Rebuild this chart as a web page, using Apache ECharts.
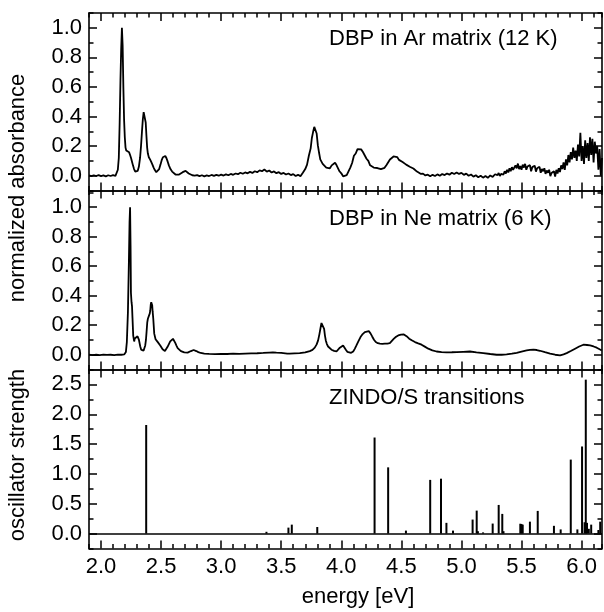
<!DOCTYPE html>
<html>
<head>
<meta charset="utf-8">
<script src="https://cdn.jsdelivr.net/npm/echarts@6/dist/echarts.min.js"></script>
<style>html,body{margin:0;padding:0;background:#fff;}#c{width:604px;height:612px;}</style>
</head>
<body>
<div id="c"></div>
<script>
// ---------- data ----------
const arSpectrum = [
[1.90,0.002],[1.92,-0.003],[1.94,0.003],[1.96,-0.002],[1.98,0.004],[2.00,-0.003],[2.02,0.002],[2.04,-0.004],[2.06,0.003],[2.08,-0.002],[2.10,0.004],[2.12,-0.001],[2.135,0.01],
[2.14,0.04],[2.148,0.12],[2.155,0.35],[2.162,0.65],[2.168,0.86],[2.174,1.0],[2.18,0.88],[2.186,0.6],[2.192,0.38],[2.198,0.26],[2.204,0.19],[2.21,0.17],[2.218,0.165],[2.226,0.16],[2.234,0.158],[2.242,0.14],[2.25,0.12],[2.258,0.095],[2.266,0.07],[2.275,0.045],[2.285,0.028],[2.295,0.022],[2.305,0.032],[2.315,0.06],[2.325,0.12],[2.333,0.2],[2.341,0.3],[2.348,0.38],[2.355,0.43],[2.36,0.44],[2.366,0.42],[2.372,0.36],[2.378,0.27],[2.384,0.19],[2.39,0.15],[2.398,0.125],[2.408,0.11],[2.418,0.093],[2.428,0.075],[2.438,0.055],[2.448,0.038],[2.46,0.024],[2.472,0.028],[2.484,0.045],[2.495,0.075],[2.505,0.105],[2.515,0.125],[2.525,0.135],[2.535,0.133],[2.545,0.118],[2.555,0.095],[2.565,0.07],[2.578,0.045],[2.592,0.028],[2.606,0.018],[2.62,0.008],[2.635,0.005],[2.65,0.008],[2.665,0.014],[2.68,0.024],[2.692,0.032],[2.704,0.033],[2.716,0.026],[2.73,0.015],[2.745,0.007],[2.76,0.003],[2.78,0.001],
[2.80,0.004],[2.82,-0.003],[2.84,0.003],[2.86,-0.004],[2.88,0.002],[2.90,-0.002],[2.92,0.005],[2.94,-0.001],[2.96,0.006],[2.98,0.0],[3.00,0.007],[3.02,0.001],[3.04,0.009],[3.06,0.003],[3.08,0.012],[3.10,0.006],[3.12,0.015],[3.14,0.01],[3.16,0.02],[3.18,0.013],[3.20,0.022],[3.22,0.016],[3.24,0.026],[3.26,0.019],[3.28,0.03],[3.30,0.024],[3.32,0.036],[3.34,0.03],[3.36,0.042],[3.38,0.028],[3.40,0.035],[3.42,0.022],[3.44,0.029],[3.46,0.017],[3.48,0.024],[3.50,0.012],[3.52,0.019],[3.54,0.008],[3.56,0.015],[3.58,0.004],[3.60,0.011],[3.62,-0.002],[3.64,0.006],[3.66,-0.003],[3.68,0.02],
[3.70,0.045],[3.715,0.075],[3.73,0.135],[3.745,0.185],[3.755,0.255],[3.765,0.295],[3.775,0.33],[3.785,0.32],[3.795,0.285],[3.805,0.205],[3.815,0.155],[3.825,0.11],[3.835,0.105],[3.845,0.08],[3.86,0.08],[3.875,0.055],[3.89,0.054],[3.905,0.05],[3.92,0.07],[3.935,0.074],[3.948,0.088],[3.96,0.072],[3.972,0.062],[3.985,0.03],[4.0,0.016],[4.015,-0.004],[4.03,-0.006],[4.045,0.004],[4.06,0.014],[4.075,0.055],[4.09,0.086],[4.105,0.135],[4.12,0.15],[4.135,0.18],[4.15,0.176],[4.165,0.178],[4.18,0.16],[4.195,0.152],[4.21,0.115],[4.225,0.1],[4.24,0.07],[4.255,0.071],[4.27,0.055],[4.285,0.061],[4.30,0.052],[4.315,0.059],[4.33,0.045],[4.345,0.057],[4.36,0.053],[4.375,0.071],[4.39,0.08],[4.405,0.11],[4.42,0.11],[4.435,0.13],[4.45,0.122],[4.465,0.126],[4.48,0.107],[4.495,0.11],[4.51,0.092],[4.525,0.095],[4.54,0.075],[4.555,0.077],[4.57,0.061],[4.585,0.064],[4.60,0.049],[4.615,0.05],[4.63,0.028],[4.645,0.029],[4.66,0.013],[4.68,0.014],[4.70,0.002],
[4.72,0.007],[4.74,-0.004],[4.76,0.006],[4.78,-0.002],[4.80,0.009],[4.82,0.0],[4.84,0.012],[4.86,0.004],[4.88,0.015],[4.90,0.007],[4.92,0.02],[4.94,0.011],[4.96,0.022],[4.98,0.012],[5.00,0.019],[5.02,0.006],[5.04,0.014],[5.06,0.0],[5.08,0.008],[5.10,-0.006],[5.12,0.003],[5.14,-0.01],[5.16,0.0],[5.18,-0.013],[5.20,-0.002],[5.22,-0.014],[5.24,0.002],[5.26,-0.008],[5.28,0.01],
[5.30,0.004],[5.31,0.018],[5.32,-0.002],[5.33,0.012],[5.34,0.025],[5.35,0.008],[5.36,0.03],[5.37,0.015],[5.38,0.04],[5.39,0.022],[5.40,0.05],[5.41,0.03],[5.42,0.058],[5.43,0.04],[5.44,0.035],[5.45,0.07],[5.46,0.05],[5.47,0.082],[5.48,0.045],[5.49,0.065],[5.50,0.04],[5.51,0.075],[5.52,0.055],[5.53,0.08],[5.54,0.04],[5.55,0.062],[5.56,0.05],[5.57,0.072],[5.58,0.03],[5.59,0.058],[5.60,0.045],[5.61,0.068],[5.62,0.028],[5.63,0.05],[5.64,0.038],[5.65,0.06],[5.66,0.02],[5.67,0.045],[5.68,0.03],[5.69,0.05],[5.70,0.012],[5.71,0.035],[5.72,0.02],[5.73,0.04],[5.74,-0.003],[5.75,0.018],[5.76,0.005],[5.77,0.03],[5.78,-0.006],[5.79,0.04],[5.80,0.015],[5.81,0.05],[5.82,0.025],[5.83,0.07],[5.84,0.045],
[5.85,0.09],[5.86,0.04],[5.87,0.11],[5.88,0.07],[5.89,0.14],[5.90,0.09],[5.91,0.16],[5.92,0.11],[5.93,0.19],[5.94,0.12],[5.95,0.17],[5.96,0.1],[5.97,0.21],[5.98,0.13],[5.99,0.29],[6.00,0.1],[6.01,0.2],[6.02,0.08],[6.03,0.24],[6.04,0.12],[6.05,0.22],[6.06,0.1],[6.07,0.26],[6.08,0.14],[6.09,0.25],[6.10,0.09],[6.11,0.23],[6.12,0.15],[6.13,0.2],[6.14,0.04],[6.15,0.18],[6.16,0.0],[6.17,0.12]
];

const neSpectrum = [
[1.90,0.001],[1.93,-0.002],[1.96,0.0],[1.99,-0.002],[2.02,0.001],[2.05,-0.001],[2.08,0.0],[2.11,-0.002],[2.14,0.001],[2.17,0.0],[2.193,0.002],
[2.207,0.018],[2.215,0.085],[2.224,0.29],[2.232,0.63],[2.2375,0.9],[2.242,1.0],[2.246,0.74],[2.249,0.42],[2.254,0.356],[2.258,0.33],[2.262,0.25],[2.268,0.13],[2.276,0.09],[2.281,0.11],[2.285,0.12],[2.29,0.105],[2.296,0.1],[2.304,0.125],[2.31,0.115],[2.315,0.103],[2.326,0.058],[2.334,0.035],[2.34,0.027],[2.354,0.027],[2.362,0.04],[2.368,0.063],[2.374,0.1],[2.379,0.153],[2.385,0.22],[2.39,0.244],[2.396,0.255],[2.401,0.255],[2.406,0.28],[2.41,0.3],[2.414,0.34],[2.418,0.356],[2.422,0.352],[2.426,0.335],[2.43,0.29],[2.435,0.244],[2.443,0.143],[2.454,0.105],[2.462,0.095],[2.471,0.087],[2.482,0.075],[2.493,0.063],[2.5125,0.037],[2.532,0.025],[2.544,0.035],[2.554,0.054],[2.566,0.074],[2.576,0.09],[2.588,0.103],[2.599,0.108],[2.608,0.1],[2.618,0.08],[2.628,0.062],[2.638,0.045],[2.65,0.032],[2.665,0.025],[2.68,0.019],[2.693,0.016],[2.707,0.014],[2.721,0.014],[2.735,0.019],[2.749,0.025],[2.76,0.03],[2.771,0.032],[2.782,0.029],[2.793,0.025],[2.81,0.018],[2.83,0.012],[2.86,0.008],
[2.90,0.006],[2.95,0.004],[3.00,0.006],[3.05,0.005],[3.10,0.007],[3.15,0.006],[3.20,0.008],[3.25,0.009],[3.30,0.01],[3.35,0.012],[3.40,0.015],[3.43,0.016],[3.46,0.014],[3.50,0.012],[3.55,0.008],
[3.571,0.007],[3.61,0.009],[3.654,0.011],[3.70,0.016],[3.738,0.025],[3.76,0.033],[3.779,0.048],[3.795,0.07],[3.807,0.097],[3.818,0.14],[3.826,0.176],[3.835,0.215],[3.843,0.228],[3.85,0.21],[3.857,0.176],[3.864,0.13],[3.871,0.097],[3.88,0.072],[3.89,0.056],[3.904,0.043],[3.918,0.034],[3.94,0.026],[3.96,0.022],[3.975,0.032],[3.988,0.048],[4.0,0.058],[4.015,0.063],[4.027,0.05],[4.038,0.034],[4.05,0.02],[4.065,0.011],[4.082,0.013],[4.099,0.022],[4.112,0.04],[4.126,0.063],[4.143,0.092],[4.16,0.12],[4.178,0.14],[4.196,0.153],[4.212,0.159],[4.229,0.16],[4.243,0.145],[4.257,0.124],[4.272,0.102],[4.287,0.086],[4.304,0.078],[4.321,0.075],[4.342,0.074],[4.363,0.075],[4.384,0.076],[4.404,0.079],[4.42,0.092],[4.438,0.109],[4.456,0.122],[4.474,0.131],[4.497,0.136],[4.521,0.138],[4.543,0.126],[4.565,0.109],[4.59,0.096],[4.613,0.086],[4.64,0.077],[4.668,0.068],[4.695,0.055],[4.724,0.041],[4.758,0.03],[4.793,0.022],[4.835,0.018],[4.876,0.016],[4.92,0.017],[4.96,0.018],[5.015,0.02],[5.071,0.022],[5.125,0.016],[5.182,0.011],[5.24,0.005],[5.293,0.0],[5.335,0.0],[5.376,0.002],[5.42,0.007],[5.46,0.013],[5.5,0.021],[5.543,0.029],[5.57,0.033],[5.599,0.034],[5.627,0.032],[5.654,0.027],[5.695,0.017],[5.738,0.007],[5.78,0.0],[5.821,-0.004],[5.85,0.003],[5.876,0.011],[5.91,0.025],[5.946,0.041],[5.98,0.056],[6.015,0.068],[6.045,0.066],[6.071,0.063],[6.1,0.056],[6.126,0.048],[6.15,0.037],[6.168,0.029]
];

const zindoTransitions = [
[2.376,1.82],[3.377,0.03],[3.56,0.10],[3.588,0.15],[3.80,0.11],[4.277,1.61],[4.39,1.11],[4.538,0.05],[4.74,0.90],[4.83,0.92],[4.875,0.18],[4.93,0.05],[5.093,0.235],[5.127,0.385],[5.137,0.04],[5.18,0.02],[5.26,0.168],[5.31,0.48],[5.34,0.33],[5.35,0.04],[5.49,0.165],[5.50,0.16],[5.51,0.15],[5.57,0.2],[5.635,0.38],[5.77,0.13],[5.826,0.07],[5.91,1.24],[5.965,0.07],[6.004,1.46],[6.025,0.19],[6.035,2.58],[6.045,0.18],[6.06,0.08],[6.08,0.15],[6.14,0.06],[6.155,0.2]
];

const energyTicks = [2.0, 2.5, 3.0, 3.5, 4.0, 4.5, 5.0, 5.5, 6.0];
const absorbanceTicks = [0.0, 0.2, 0.4, 0.6, 0.8, 1.0];
const strengthTicks = [0.0, 0.5, 1.0, 1.5, 2.0, 2.5];
const panelLabels = ['DBP in Ar matrix (12 K)', 'DBP in Ne matrix (6 K)', 'ZINDO/S transitions'];
const xTitle = 'energy [eV]';
const yTitles = ['normalized absorbance', 'oscillator strength'];

// ---------- layout / style ----------
const FONT = '"Liberation Sans", Arial, Helvetica, sans-serif';
const FS = 22;
const BLACK = '#000';
const X_MIN = 1.9, X_MAX = 6.17;
const grids = [
  {left: 89, top: 13, width: 513, height: 177.5, outerBoundsMode: 'none'},
  {left: 89, top: 190.5, width: 513, height: 179, outerBoundsMode: 'none'},
  {left: 89, top: 369.5, width: 513, height: 179, outerBoundsMode: 'none'}
];
const yRanges = [
  {min: -0.1, max: 1.1, minor: 0.1, ticks: absorbanceTicks},
  {min: -0.1, max: 1.113, minor: 0.1, ticks: absorbanceTicks},
  {min: -0.25, max: 2.75, minor: 0.25, ticks: strengthTicks}
];

const tickStyle = {color: BLACK, width: 1.5};
const axisLineOn = {show: true, onZero: false, lineStyle: {color: BLACK, width: 1.6}};
const axisLineOff = {show: false, onZero: false};
const labelStyle = {color: BLACK, fontSize: FS, fontFamily: FONT};

const xAxis = [];
const yAxis = [];
grids.forEach((g, gi) => {
  ['bottom', 'top'].forEach(pos => {
    xAxis.push({
      type: 'value', gridIndex: gi, position: pos, min: X_MIN, max: X_MAX, interval: 0.1,
      axisLine: axisLineOn,
      axisTick: {show: true, inside: true, length: 4.5, lineStyle: tickStyle},
      axisLabel: {show: false}, splitLine: {show: false}
    });
    xAxis.push({
      type: 'value', gridIndex: gi, position: pos, min: X_MIN, max: X_MAX, interval: 0.1,
      axisLine: axisLineOff,
      axisTick: {show: true, inside: true, length: 8, lineStyle: tickStyle, customValues: energyTicks},
      axisLabel: (gi === 2 && pos === 'bottom')
        ? Object.assign({show: true, customValues: energyTicks, margin: 7, formatter: v => Number(v).toFixed(1)}, labelStyle)
        : {show: false},
      splitLine: {show: false}
    });
  });
  const r = yRanges[gi];
  ['left', 'right'].forEach(pos => {
    yAxis.push({
      type: 'value', gridIndex: gi, position: pos, min: r.min, max: r.max, interval: r.minor,
      axisLine: axisLineOn,
      axisTick: {show: true, inside: true, length: 4.5, lineStyle: tickStyle},
      axisLabel: {show: false}, splitLine: {show: false}
    });
    yAxis.push({
      type: 'value', gridIndex: gi, position: pos, min: r.min, max: r.max, interval: r.minor,
      axisLine: axisLineOff,
      axisTick: {show: true, inside: true, length: 8, lineStyle: tickStyle, customValues: r.ticks},
      axisLabel: pos === 'left'
        ? Object.assign({show: true, customValues: r.ticks, margin: 7, formatter: v => Number(v).toFixed(1)}, labelStyle)
        : {show: false},
      splitLine: {show: false}
    });
  });
});

const textStyle = (t, x, y, align, rot) => ({
  type: 'text', x: x, y: y, rotation: rot || 0, silent: true,
  style: {text: t, fill: BLACK, font: FS + 'px ' + FONT, textAlign: align, textVerticalAlign: 'middle'}
});

const option = {
  animation: false,
  backgroundColor: '#fff',
  grid: grids,
  xAxis: xAxis,
  yAxis: yAxis,
  series: [
    {type: 'line', name: 'Ar', xAxisIndex: 0, yAxisIndex: 0, data: arSpectrum, symbol: 'none', showSymbol: false,
     lineStyle: {color: BLACK, width: 1.8}, clip: true},
    {type: 'line', name: 'Ne', xAxisIndex: 4, yAxisIndex: 4, data: neSpectrum, symbol: 'none', showSymbol: false,
     lineStyle: {color: BLACK, width: 1.8}, clip: true},
    {type: 'bar', name: 'ZINDO/S', xAxisIndex: 8, yAxisIndex: 8, data: zindoTransitions, barWidth: 2,
     itemStyle: {color: BLACK}, clip: true,
     markLine: {silent: true, symbol: ['none', 'none'], label: {show: false}, animation: false,
       lineStyle: {color: BLACK, type: 'solid', width: 1.5}, data: [{yAxis: 0}]}}
  ],
  graphic: [
    textStyle(panelLabels[0], 329, 39, 'left'),
    textStyle(panelLabels[1], 329, 219, 'left'),
    textStyle(panelLabels[2], 329, 397.5, 'left'),
    textStyle(xTitle, 358, 597, 'center'),
    textStyle(yTitles[0], 18, 188, 'center', Math.PI / 2),
    textStyle(yTitles[1], 18, 455, 'center', Math.PI / 2)
  ]
};

const chart = echarts.init(document.getElementById('c'), null, {renderer: 'canvas'});
chart.setOption(option);
</script>
</body>
</html>
